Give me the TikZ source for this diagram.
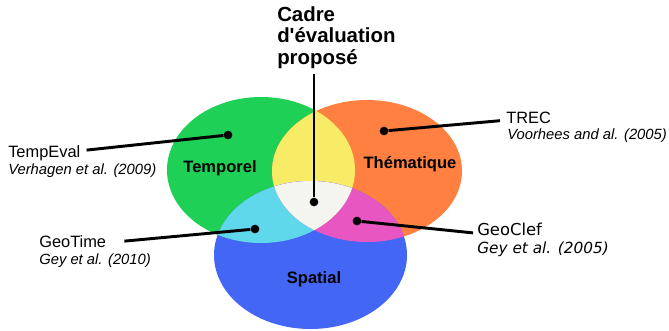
\documentclass[tikz,border=0pt]{standalone}
\usepackage{fontspec}
\setmainfont{Liberation Sans}
\newfontfamily\dejavu{DejaVu Sans}
\usetikzlibrary{positioning}

\definecolor{tempcol}{RGB}{30,208,85}
\definecolor{themcol}{RGB}{255,128,64}
\definecolor{spatcol}{RGB}{68,102,245}
\definecolor{tempthem}{RGB}{248,236,102}
\definecolor{tempspat}{RGB}{94,216,234}
\definecolor{themspat}{RGB}{232,86,194}
\definecolor{allcol}{RGB}{245,245,240}

\begin{document}
\begin{tikzpicture}[x=0.75pt, y=-0.75pt, inner sep=0pt,
        srcname/.style={font=\fontsize{12.3}{14}\selectfont, anchor=base west},
        citation/.style={font=\fontsize{11.1}{13}\selectfont\itshape, anchor=base west},
        region/.style={font=\fontsize{12.4}{14}\selectfont\bfseries, anchor=base},
        refdot/.style={circle, fill=black, minimum size=6.5pt},
        link/.style={line width=2.2pt}]
        \useasboundingbox (0,0) rectangle (669,330);

        % Sets
        \def\tempset{(261,170) ellipse [x radius=94, y radius=73]}
        \def\themset{(367,171) ellipse [x radius=95, y radius=71]}
        \def\spatset{(310.5,255) ellipse [x radius=96.5, y radius=74]}

        \fill[tempcol] \tempset;
        \fill[themcol] \themset;
        \begin{scope}
            \clip \tempset;
            \fill[tempthem] \themset;
        \end{scope}
        \fill[spatcol] \spatset;
        \begin{scope}
            \clip \tempset;
            \fill[tempspat] \spatset;
        \end{scope}
        \begin{scope}
            \clip \themset;
            \fill[themspat] \spatset;
        \end{scope}
        \begin{scope}
            \clip \tempset;
            \clip \themset;
            \fill[allcol] \spatset;
        \end{scope}

        % Set labels
        \node[region] (temporel) at (220,172) {Temporel};
        \node[region] (thematique) at (410,168) {Thématique};
        \node[region] (spatial) at (314,283) {Spatial};

        % Proposed framework
        \node[font=\fontsize{15.3}{16.3}\selectfont\bfseries, align=left, anchor=north west]
            (cadre) at (277,6) {Cadre\\d\textquotesingle évaluation\\proposé};

        % Dots
        \node[refdot] (centre) at (314,202) {};
        \node[refdot] (tempdot) at (228,135) {};
        \node[refdot] (themdot) at (384,131) {};
        \node[refdot] (geotimedot) at (255,229) {};
        \node[refdot] (geoclefdot) at (357,221) {};

        % Campaigns
        \node[srcname] (tempeval) at (8,157) {TempEval};
        \node[citation] (verhagen) at (8,174) {Verhagen et al. (2009)};
        \node[srcname] (trec) at (506,123) {TREC};
        \node[citation] (voorhees) at (507,139) {Voorhees and al. (2005)};
        \node[srcname] (geotime) at (39,247) {GeoTime};
        \node[citation] (gey2010) at (39,264) {Gey et al. (2010)};
        \node[srcname, font=\dejavu\fontsize{12.3}{14}\selectfont] (geoclef) at (477,235) {GeoClef};
        \node[citation, font=\dejavu\fontsize{11.5}{13}\selectfont\itshape] (gey2005) at (477,253) {Gey et al. (2005)};

        % Links
        \draw[link] (centre) -- ([yshift=-4pt]centre |- cadre.south);
        \draw[link] (tempdot) -- ([xshift=4.5pt, yshift=2pt]tempeval.east);
        \draw[link] (themdot) -- ([xshift=-4.5pt, yshift=-2.5pt]trec.west);
        \draw[link] (geotimedot) -- ([xshift=13.5pt]geotime.east);
        \draw[link] (geoclefdot) -- ([xshift=-3pt, yshift=-3pt]geoclef.west);
\end{tikzpicture}
\end{document}
